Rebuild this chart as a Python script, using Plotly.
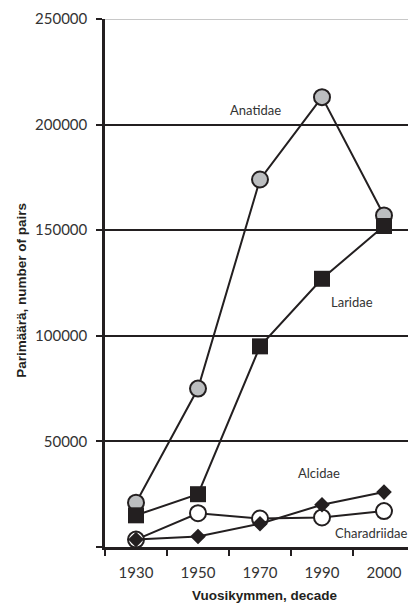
import plotly.graph_objects as go

decades = ["1930", "1950", "1970", "1990", "2000"]
anatidae = [21000, 75000, 174000, 213000, 157000]
laridae = [15000, 25000, 95000, 127000, 152000]
charadriidae = [3500, 16000, 13500, 14000, 17000]
alcidae = [3500, 5000, 11000, 20000, 26000]

y_ticks = [0, 50000, 100000, 150000, 200000, 250000]
y_tick_labels = ["", "50000", "100000", "150000", "200000", "250000"]

INK = "#231f20"
LABEL_FONT = dict(family="Lato, Open Sans, sans-serif", size=15, color="#333333")
TITLE_FONT = dict(family="Liberation Sans, Arial, sans-serif", size=13.5, color=INK)

fig = go.Figure()

fig.add_trace(go.Scatter(
    x=decades, y=anatidae, mode="lines+markers", name="Anatidae",
    line=dict(color=INK, width=2),
    marker=dict(symbol="circle", size=16, color="#bcbec0", line=dict(color=INK, width=2)),
))
fig.add_trace(go.Scatter(
    x=decades, y=laridae, mode="lines+markers", name="Laridae",
    line=dict(color=INK, width=2),
    marker=dict(symbol="square", size=16, color=INK, line=dict(color=INK, width=0)),
))
fig.add_trace(go.Scatter(
    x=decades, y=charadriidae, mode="lines+markers", name="Charadriidae",
    line=dict(color=INK, width=2),
    marker=dict(symbol="circle", size=16, color="white", line=dict(color=INK, width=2)),
))
fig.add_trace(go.Scatter(
    x=decades, y=alcidae, mode="lines+markers", name="Alcidae",
    line=dict(color=INK, width=2),
    marker=dict(symbol="diamond", size=12, color=INK, line=dict(color=INK, width=0)),
))

# light top rule at 250000
fig.add_shape(type="line", xref="paper", yref="y", x0=0, x1=1, y0=250000, y1=250000,
              line=dict(color="#c8c8c8", width=2), layer="above")

labels = [
    ("Anatidae", 1.92, 207000),
    ("Laridae", 3.48, 116000),
    ("Alcidae", 2.95, 35000),
    ("Charadriidae", 3.79, 6600),
]
for text, x, y in labels:
    fig.add_annotation(x=x, y=y, text=text, showarrow=False,
                       font=dict(family="Lato, Open Sans, sans-serif", size=13, color="#333333"))

# axis titles
fig.add_annotation(xref="paper", yref="paper", x=-0.268, y=0.487, text="<b>Parimäärä, number of pairs</b>",
                   textangle=-90, showarrow=False, xanchor="center", yanchor="middle", font=TITLE_FONT)
fig.add_annotation(xref="paper", yref="paper", x=0.516, y=-0.092, text="<b>Vuosikymmen, decade</b>",
                   showarrow=False, xanchor="center", yanchor="middle", font=TITLE_FONT)

# page body has an 8px margin, so the figure is 8px smaller and margins shifted
fig.update_layout(
    width=408, height=596,
    margin=dict(l=97, r=1, t=11, b=57),
    plot_bgcolor="white", paper_bgcolor="white",
    showlegend=False,
    xaxis=dict(
        type="category", categoryorder="array", categoryarray=decades,
        range=[-0.5, 4.5], tickson="boundaries",
        showline=True, linecolor=INK, linewidth=2.5,
        ticks="outside", ticklen=6, tickwidth=2, tickcolor=INK,
        showgrid=False, tickfont=LABEL_FONT, ticklabelstandoff=10,
        automargin=False,
    ),
    yaxis=dict(
        range=[0, 250000], tickvals=y_ticks, ticktext=y_tick_labels,
        showline=True, linecolor=INK, linewidth=2.5,
        ticks="outside", ticklen=6, tickwidth=2, tickcolor=INK,
        showgrid=True, gridcolor=INK, gridwidth=2, zeroline=False,
        tickfont=LABEL_FONT, ticklabelstandoff=6,
        automargin=False,
    ),
)

fig.write_html("out.html")
